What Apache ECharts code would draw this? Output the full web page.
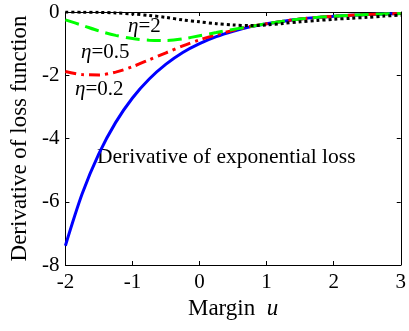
<!DOCTYPE html>
<html>
<head>
<meta charset="utf-8">
<script src="https://cdn.jsdelivr.net/npm/echarts@6/dist/echarts.min.js"></script>
<style>
  html, body { margin: 0; padding: 0; background: #fff; }
  #chart { width: 409px; height: 331px; }
</style>
</head>
<body>
<div id="chart"></div>
<script>
// margin u
const uVals = [-2, -1.75, -1.5, -1.25, -1, -0.75, -0.5, -0.25, 0, 0.25, 0.5, 0.75, 1, 1.25, 1.5, 1.75, 2, 2.25, 2.5, 2.75, 3]
// derivative of exponential loss
const expLoss = [-7.39, -5.75, -4.48, -3.49, -2.72, -2.12, -1.65, -1.28, -1.0, -0.78, -0.61, -0.47, -0.37, -0.29, -0.22, -0.17, -0.135, -0.105, -0.08, -0.064, -0.05]
// eta = 0.2
const eta02 = [-1.88, -1.98, -1.99, -1.9, -1.73, -1.51, -1.29, -1.07, -0.88, -0.72, -0.58, -0.46, -0.37, -0.29, -0.22, -0.17, -0.135, -0.105, -0.08, -0.064, -0.05]
// eta = 0.5
const eta05 = [-0.25, -0.42, -0.6, -0.74, -0.84, -0.89, -0.9, -0.85, -0.75, -0.65, -0.55, -0.46, -0.37, -0.29, -0.22, -0.17, -0.135, -0.105, -0.08, -0.064, -0.05]
// eta = 2
const eta2 = [0, -0.005, -0.01, -0.03, -0.06, -0.11, -0.17, -0.25, -0.31, -0.37, -0.41, -0.43, -0.41, -0.36, -0.31, -0.27, -0.23, -0.2, -0.17, -0.13, -0.1]

const xTicks = [-2, -1, 0, 1, 2, 3]
const yTicks = [-8, -6, -4, -2, 0]

const font = 'Liberation Serif'

function pairs(ys) {
  return uVals.map((u, i) => [u, ys[i]])
}

function lineSeries(ys, color, type) {
  return {
    type: 'line',
    data: pairs(ys),
    smooth: 0.3,
    symbol: 'none',
    lineStyle: { color: color, width: 3, type: type, cap: 'butt' }
  }
}

const chart = echarts.init(document.getElementById('chart'))

const axisBase = {
  type: 'value',
  axisLine: { show: true, onZero: false, lineStyle: { color: '#000', width: 1 } },
  axisTick: { show: true, inside: true, length: 4, lineStyle: { color: '#000' } },
  splitLine: { show: false }
}

const etaRich = { i: { fontStyle: 'italic', fontFamily: font, fontSize: 21 } }

chart.setOption({
  animation: false,
  grid: { left: 57, top: 12, right: 5, bottom: 66 },
  xAxis: [
    Object.assign({}, axisBase, {
      min: xTicks[0],
      max: xTicks[xTicks.length - 1],
      interval: 1,
      position: 'bottom',
      axisLabel: { color: '#000', fontFamily: font, fontSize: 21, margin: 7 },
      name: 'Margin  {i|u}',
      nameLocation: 'middle',
      nameGap: 27,
      nameTextStyle: {
        color: '#000', fontFamily: font, fontSize: 23,
        rich: { i: { fontStyle: 'italic', fontFamily: font, fontSize: 23, color: '#000' } }
      }
    }),
    Object.assign({}, axisBase, {
      min: xTicks[0],
      max: xTicks[xTicks.length - 1],
      interval: 1,
      position: 'top',
      axisLabel: { show: false }
    })
  ],
  yAxis: [
    Object.assign({}, axisBase, {
      min: yTicks[0],
      max: yTicks[yTicks.length - 1],
      interval: 2,
      position: 'left',
      axisLabel: { color: '#000', fontFamily: font, fontSize: 21, margin: 6 },
      name: 'Derivative of loss function',
      nameLocation: 'middle',
      nameGap: 26,
      nameTextStyle: { color: '#000', fontFamily: font, fontSize: 23 }
    }),
    Object.assign({}, axisBase, {
      min: yTicks[0],
      max: yTicks[yTicks.length - 1],
      interval: 2,
      position: 'right',
      axisLabel: { show: false }
    })
  ],
  series: [
    lineSeries(expLoss, '#0000ff', 'solid'),
    lineSeries(eta02, '#ff0000', [11, 5, 3, 5]),
    lineSeries(eta05, '#00ff00', [14, 7]),
    lineSeries(eta2, '#000000', [3, 3])
  ],
  graphic: [
    {
      type: 'text', left: 128, top: 16,
      style: { text: '{i|η}=2', fontFamily: font, fontSize: 21, fill: '#000', rich: etaRich }
    },
    {
      type: 'text', left: 81, top: 42,
      style: { text: '{i|η}=0.5', fontFamily: font, fontSize: 21, fill: '#000', rich: etaRich }
    },
    {
      type: 'text', left: 75, top: 79,
      style: { text: '{i|η}=0.2', fontFamily: font, fontSize: 21, fill: '#000', rich: etaRich }
    },
    {
      type: 'text', left: 97, top: 146,
      style: { text: 'Derivative of exponential loss', fontFamily: font, fontSize: 21.5, fill: '#000' }
    }
  ]
})
</script>
</body>
</html>
